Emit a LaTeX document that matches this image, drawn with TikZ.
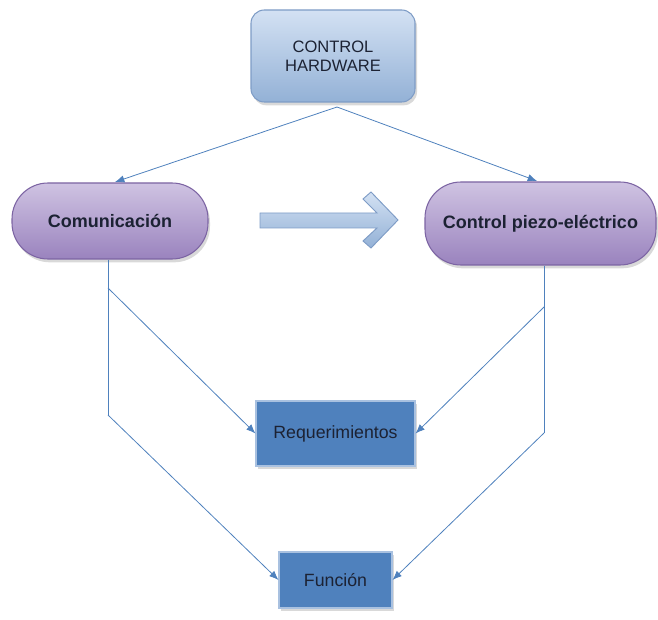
\documentclass[tikz,border=0pt]{standalone}
\usepackage{fontspec}
\setmainfont{Liberation Sans}
\usetikzlibrary{arrows.meta,shadows}
\definecolor{linec}{HTML}{4F81BD}
\definecolor{txt}{HTML}{1C2233}
\definecolor{hwtop}{HTML}{D3E1F3}
\definecolor{hwbot}{HTML}{93B1D6}
\definecolor{hwdraw}{HTML}{7E9CC6}
\definecolor{pltop}{HTML}{CFC3E2}
\definecolor{plbot}{HTML}{9A83BE}
\definecolor{pldraw}{HTML}{7C64A3}
\definecolor{boxfill}{HTML}{4F81BD}
\definecolor{boxdraw}{HTML}{A9C1E0}
\tikzset{
  hwbox/.style={draw=hwdraw, line width=0.8pt, rounded corners=10pt, top color=hwtop, bottom color=hwbot,
    minimum width=164*0.75pt, minimum height=92*0.75pt, align=center, text=txt,
    font=\fontsize{12.4}{14.3}\selectfont,
    drop shadow={opacity=0.3, shadow xshift=1.5pt, shadow yshift=-2.5pt}},
  pill/.style={draw=pldraw, line width=0.8pt, rounded corners=27pt, top color=pltop, bottom color=plbot,
    text=txt, font=\fontsize{13.5}{16}\selectfont\bfseries,
    drop shadow={opacity=0.3, shadow xshift=1.5pt, shadow yshift=-2.5pt}},
  bluebox/.style={draw=boxdraw, line width=0.8pt, fill=boxfill, text=txt,
    font=\fontsize{13.3}{16}\selectfont,
    drop shadow={opacity=0.3, shadow xshift=1.5pt, shadow yshift=-2.5pt}},
  conn/.style={draw=linec, line width=0.6pt},
  arr/.style={conn, -{Latex[length=7pt,width=5.5pt]}},
  bigarrow/.style={draw=hwdraw, line width=0.7pt, top color=hwtop, bottom color=hwbot}
}
\begin{document}
\begin{tikzpicture}[x=0.75pt,y=-0.75pt]
\useasboundingbox (0,0) rectangle (658,620);
\node[hwbox] (hw) at (333,56) {CONTROL\\HARDWARE};
\node[pill, minimum width=196*0.75pt, minimum height=76*0.75pt] (com) at (110,221) {Comunicación};
\node[pill, minimum width=231*0.75pt, minimum height=83*0.75pt] (pie) at (540.5,223.5) {Control piezo-eléctrico};
\node[bluebox, minimum width=159*0.75pt, minimum height=65*0.75pt] (req) at (335.5,433.5) {Requerimientos};
\node[bluebox, minimum width=113*0.75pt, minimum height=56*0.75pt] (fun) at (335.5,580) {Función};
% big arrow
\draw[bigarrow] (260,213) -- (377,213) -- (363,199) -- (371,192) -- (398,220) -- (371,248) -- (363,241) -- (377,228) -- (260,228) -- cycle;
% top connectors
\coordinate (hwb) at (337,107);
\coordinate (comt) at (115,182);
\coordinate (piet) at (537,181);
\draw[arr] (hwb) -- (comt);
\draw[arr] (hwb) -- (piet);
% left connectors
\coordinate (lb1) at (108,288);
\coordinate (lb2) at (108,415);
\draw[conn] (com.south -| lb1) -- (lb2);
\draw[arr] (lb2) -- (fun.west);
\draw[arr] (lb1) -- (req.west);
% right connectors
\coordinate (rb1) at (544,307);
\coordinate (rb2) at (544,433);
\draw[conn] (pie.south -| rb1) -- (rb2);
\draw[arr] (rb2) -- (fun.east);
\draw[arr] (rb1) -- (req.east);
\end{tikzpicture}
\end{document}
